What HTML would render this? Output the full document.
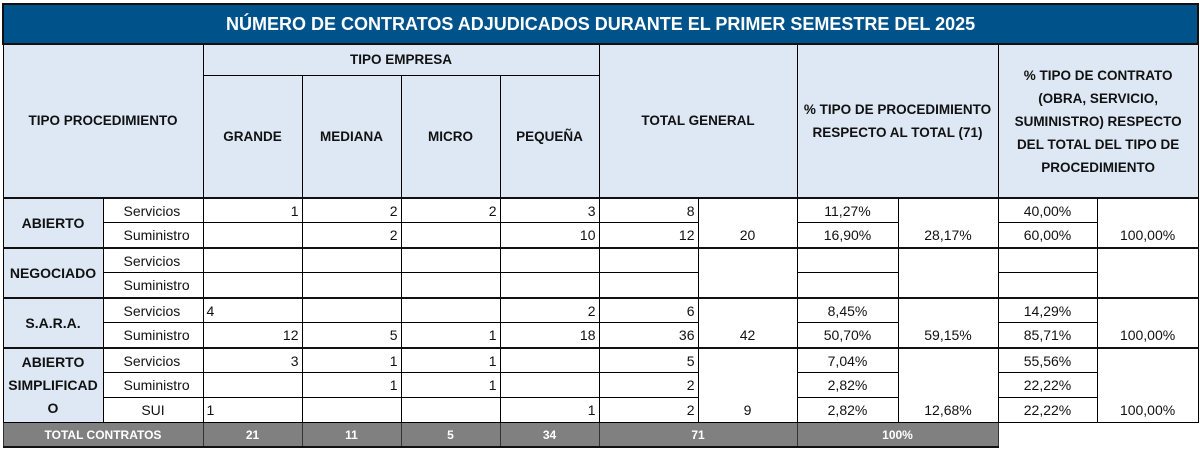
<!DOCTYPE html>
<html><head><meta charset="utf-8">
<style>
body{margin:0;background:#fff;width:1200px;height:455px;overflow:hidden;font-family:"Liberation Sans",Arial,sans-serif;}
table{position:absolute;left:2px;top:3px;border-collapse:collapse;table-layout:fixed;width:1195px;font-size:14px;color:#111;}
td{border:1px solid #000;padding:0 3px;height:24px;line-height:18px;overflow:hidden;white-space:nowrap;}
.title{background:#00538a;color:#fff;font-weight:bold;font-size:18px;text-align:center;height:38px;border:2px solid #111;}
.h{background:#dde8f4;font-weight:bold;text-align:center;font-size:13.5px;}
.hw{white-space:normal;line-height:23px;}
.p{background:#dde8f4;font-weight:bold;text-align:center;border-top:2px solid #111;}
.s{text-align:left;padding-left:20px;}
.r{text-align:right;}
.c{text-align:center;}
.b{text-align:center;vertical-align:bottom;padding-bottom:3px;}
.gt td{border-top:2px solid #111;height:23px;}
.tot td{background:#808080;color:#fff;font-weight:bold;font-size:12px;text-align:center;height:23px;border:1px solid #333;border-bottom:2px solid #111;}
.tot td.e{background:#fff;border:none;}
</style></head><body>
<table>
<colgroup><col style="width:100px"><col style="width:100px"><col style="width:99px"><col style="width:99px"><col style="width:99px"><col style="width:99px"><col style="width:99px"><col style="width:99px"><col style="width:101px"><col style="width:100px"><col style="width:99px"><col style="width:101px"></colgroup>
<tr><td colspan="12" class="title">NÚMERO DE CONTRATOS ADJUDICADOS DURANTE EL PRIMER SEMESTRE DEL 2025</td></tr>
<tr><td colspan="2" rowspan="2" class="h">TIPO PROCEDIMIENTO</td>
<td colspan="4" class="h" style="height:30px">TIPO EMPRESA</td>
<td colspan="2" rowspan="2" class="h">TOTAL GENERAL</td>
<td colspan="2" rowspan="2" class="h hw">% TIPO DE PROCEDIMIENTO RESPECTO AL TOTAL (71)</td>
<td colspan="2" rowspan="2" class="h hw">% TIPO DE CONTRATO (OBRA, SERVICIO, SUMINISTRO) RESPECTO DEL TOTAL DEL TIPO DE PROCEDIMIENTO</td></tr>
<tr><td class="h" style="height:121px">GRANDE</td><td class="h">MEDIANA</td><td class="h">MICRO</td><td class="h">PEQUEÑA</td></tr>

<tr class="gt"><td rowspan="2" class="p">ABIERTO</td><td class="s">Servicios</td><td class="r">1</td><td class="r">2</td><td class="r">2</td><td class="r">3</td><td class="r">8</td><td rowspan="2" class="b">20</td><td class="c">11,27%</td><td rowspan="2" class="b">28,17%</td><td class="c">40,00%</td><td rowspan="2" class="b">100,00%</td></tr>
<tr><td class="s">Suministro</td><td></td><td class="r">2</td><td></td><td class="r">10</td><td class="r">12</td><td class="c">16,90%</td><td class="c">60,00%</td></tr>

<tr class="gt"><td rowspan="2" class="p">NEGOCIADO</td><td class="s">Servicios</td><td></td><td></td><td></td><td></td><td></td><td rowspan="2"></td><td></td><td rowspan="2"></td><td></td><td rowspan="2"></td></tr>
<tr><td class="s">Suministro</td><td></td><td></td><td></td><td></td><td></td><td></td><td></td></tr>

<tr class="gt"><td rowspan="2" class="p">S.A.R.A.</td><td class="s">Servicios</td><td>4</td><td></td><td></td><td class="r">2</td><td class="r">6</td><td rowspan="2" class="b">42</td><td class="c">8,45%</td><td rowspan="2" class="b">59,15%</td><td class="c">14,29%</td><td rowspan="2" class="b">100,00%</td></tr>
<tr><td class="s">Suministro</td><td class="r">12</td><td class="r">5</td><td class="r">1</td><td class="r">18</td><td class="r">36</td><td class="c">50,70%</td><td class="c">85,71%</td></tr>

<tr class="gt"><td rowspan="3" class="p hw" style="line-height:23px">ABIERTO SIMPLIFICAD O</td><td class="s">Servicios</td><td class="r">3</td><td class="r">1</td><td class="r">1</td><td></td><td class="r">5</td><td rowspan="3" class="b">9</td><td class="c">7,04%</td><td rowspan="3" class="b">12,68%</td><td class="c">55,56%</td><td rowspan="3" class="b">100,00%</td></tr>
<tr><td class="s">Suministro</td><td></td><td class="r">1</td><td class="r">1</td><td></td><td class="r">2</td><td class="c">2,82%</td><td class="c">22,22%</td></tr>
<tr><td class="c">SUI</td><td>1</td><td></td><td></td><td class="r">1</td><td class="r">2</td><td class="c">2,82%</td><td class="c">22,22%</td></tr>

<tr class="tot"><td colspan="2">TOTAL CONTRATOS</td><td>21</td><td>11</td><td>5</td><td>34</td><td colspan="2">71</td><td colspan="2">100%</td><td class="e"></td><td class="e"></td></tr>
</table>
</body></html>
